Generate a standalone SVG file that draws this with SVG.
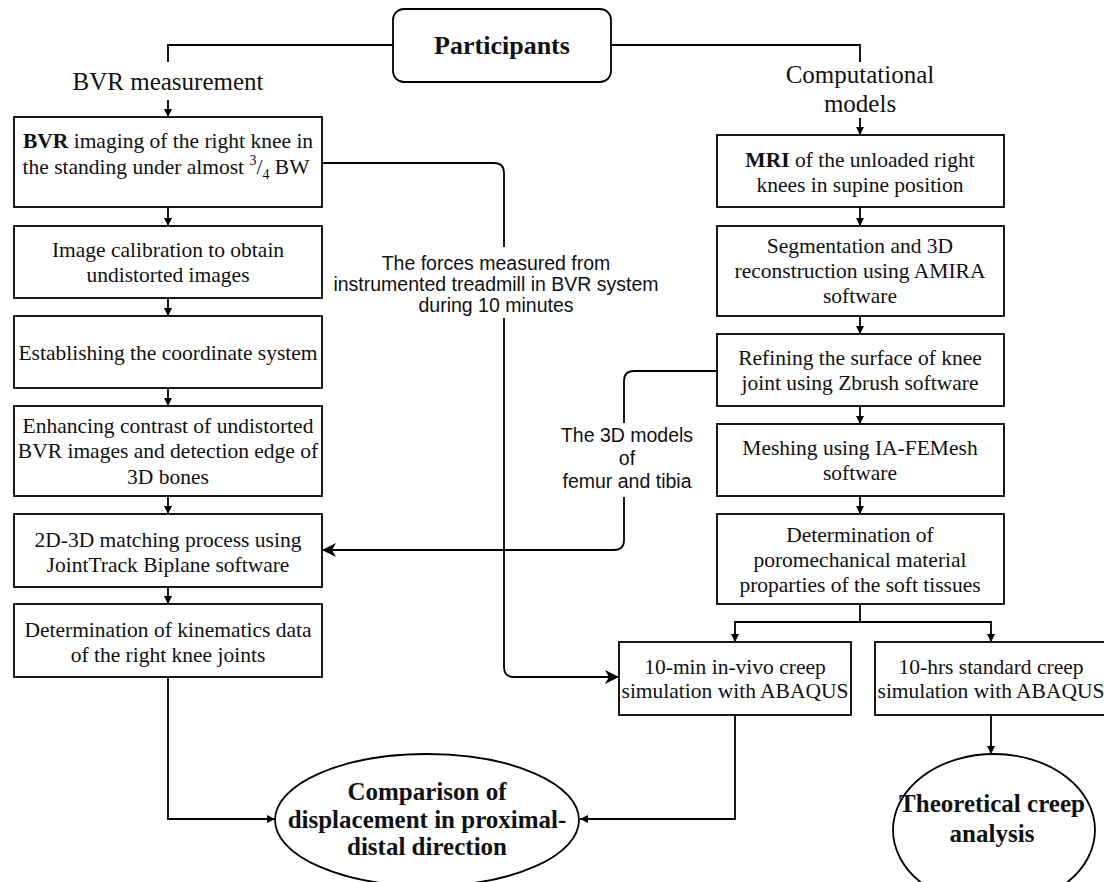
<svg xmlns="http://www.w3.org/2000/svg" width="1104" height="882" viewBox="0 0 1104 882">
<style>
.box{fill:#fff;stroke:#000;stroke-width:1.8}
.ln{fill:none;stroke:#000;stroke-width:1.8}
.t{font-family:"Liberation Serif","Times New Roman",serif;font-size:21.5px;fill:#111;text-anchor:middle}
.lab{font-family:"Liberation Serif","Times New Roman",serif;font-size:25px;fill:#111;text-anchor:middle}
.b{font-family:"Liberation Serif","Times New Roman",serif;font-size:25px;font-weight:bold;fill:#111;text-anchor:middle}
.s{font-family:"Liberation Sans",Arial,sans-serif;font-size:19.5px;fill:#111;text-anchor:middle}
</style>
<defs>
<marker id="a" viewBox="0 0 8 8" refX="8" refY="4" markerWidth="8" markerHeight="8" markerUnits="userSpaceOnUse" orient="auto"><path d="M0,0 L8,4 L0,8 z" fill="#000"/></marker>
<marker id="big" viewBox="0 0 14 14" refX="14" refY="7" markerWidth="14" markerHeight="14" markerUnits="userSpaceOnUse" orient="auto"><path d="M0,0 L14,7 L0,14 L4,7 z" fill="#000"/></marker>
</defs>
<g id="connectors">
<path class="ln" d="M393,45 H168 V62"/>
<path class="ln" d="M611,45 H860 V62"/>
<path class="ln" d="M168,100 V117" marker-end="url(#a)"/>
<path class="ln" d="M860,118 V135" marker-end="url(#a)"/>
<path class="ln" d="M168,207 V226" marker-end="url(#a)"/>
<path class="ln" d="M168,298 V316" marker-end="url(#a)"/>
<path class="ln" d="M168,388 V406" marker-end="url(#a)"/>
<path class="ln" d="M168,496 V514" marker-end="url(#a)"/>
<path class="ln" d="M168,587 V604" marker-end="url(#a)"/>
<path class="ln" d="M860,207 V226" marker-end="url(#a)"/>
<path class="ln" d="M860,316 V334" marker-end="url(#a)"/>
<path class="ln" d="M860,406 V424" marker-end="url(#a)"/>
<path class="ln" d="M860,496 V514" marker-end="url(#a)"/>
<path class="ln" d="M860,604 V622"/>
<path class="ln" d="M860,622 H735 V642" marker-end="url(#a)"/>
<path class="ln" d="M860,622 H991 V642" marker-end="url(#a)"/>
<path class="ln" d="M991,715 V754" marker-end="url(#a)"/>
<path class="ln" d="M168,677 V819 H275" marker-end="url(#a)"/>
<path class="ln" d="M735,715 V819 H580" marker-end="url(#a)"/>
<path class="ln" d="M322,163 H494 Q504,163 504,173 V247"/>
<path class="ln" d="M504,318 V667 Q504,677 514,677 H619" marker-end="url(#big)"/>
<path class="ln" d="M717,371 H634 Q624,371 624,381 V423"/>
<path class="ln" d="M624,497 V540 Q624,550 614,550 H322" marker-end="url(#big)"/>
<text class="s"><tspan x="496" y="270">The forces measured from</tspan><tspan x="496" y="291">instrumented treadmill in BVR system</tspan><tspan x="496" y="312">during 10 minutes</tspan></text>
<text class="s"><tspan x="627" y="442">The 3D models</tspan><tspan x="627" y="465">of</tspan><tspan x="627" y="488">femur and tibia</tspan></text>
</g>
<g id="participants">
<rect class="box" x="393" y="9" width="218" height="73" rx="11"/>
<text class="b" x="502" y="54" style="font-size:26px">Participants</text>
</g>
<g id="label-bvr"><text class="lab" x="168" y="90">BVR measurement</text></g>
<g id="label-comp"><text class="lab"><tspan x="860" y="83">Computational</tspan><tspan x="860" y="112">models</tspan></text></g>
<g id="n1">
<rect class="box" x="14" y="117" width="308" height="90"/>
<text class="t"><tspan x="168" y="148"><tspan font-weight="bold">BVR</tspan> imaging of the right knee in</tspan><tspan x="166" y="174">the standing under almost <tspan font-size="14" dy="-9">3</tspan><tspan dy="9">/</tspan><tspan font-size="14" dy="5">4</tspan><tspan dy="-5"> BW</tspan></tspan></text>
</g>
<g id="n2">
<rect class="box" x="14" y="226" width="308" height="72"/>
<text class="t"><tspan x="168" y="257">Image calibration to obtain</tspan><tspan x="168" y="282">undistorted images</tspan></text>
</g>
<g id="n3">
<rect class="box" x="14" y="316" width="308" height="72"/>
<text class="t" x="168" y="360">Establishing the coordinate system</text>
</g>
<g id="n4">
<rect class="box" x="14" y="406" width="308" height="90"/>
<text class="t"><tspan x="168" y="433">Enhancing contrast of undistorted</tspan><tspan x="168" y="458">BVR images and detection edge of</tspan><tspan x="168" y="484">3D bones</tspan></text>
</g>
<g id="n5">
<rect class="box" x="14" y="514" width="308" height="73"/>
<text class="t"><tspan x="168" y="547">2D-3D matching process using</tspan><tspan x="168" y="572">JointTrack Biplane software</tspan></text>
</g>
<g id="n6">
<rect class="box" x="14" y="604" width="308" height="73"/>
<text class="t"><tspan x="168" y="637">Determination of kinematics data</tspan><tspan x="168" y="662">of the right knee joints</tspan></text>
</g>
<g id="m1">
<rect class="box" x="717" y="135" width="287" height="72"/>
<text class="t"><tspan x="860" y="167"><tspan font-weight="bold">MRI</tspan> of the unloaded right</tspan><tspan x="860" y="192">knees in supine position</tspan></text>
</g>
<g id="m2">
<rect class="box" x="717" y="226" width="287" height="90"/>
<text class="t"><tspan x="860" y="253">Segmentation and 3D</tspan><tspan x="860" y="278">reconstruction using AMIRA</tspan><tspan x="860" y="303">software</tspan></text>
</g>
<g id="m3">
<rect class="box" x="717" y="334" width="287" height="72"/>
<text class="t"><tspan x="860" y="365">Refining the surface of knee</tspan><tspan x="860" y="390">joint using Zbrush software</tspan></text>
</g>
<g id="m4">
<rect class="box" x="717" y="424" width="287" height="72"/>
<text class="t"><tspan x="860" y="455">Meshing using IA-FEMesh</tspan><tspan x="860" y="480">software</tspan></text>
</g>
<g id="m5">
<rect class="box" x="717" y="514" width="287" height="90"/>
<text class="t"><tspan x="860" y="542">Determination of</tspan><tspan x="860" y="567">poromechanical material</tspan><tspan x="860" y="592">proparties of the soft tissues</tspan></text>
</g>
<g id="sim1">
<rect class="box" x="619" y="642" width="232" height="73"/>
<text class="t"><tspan x="735" y="674">10-min in-vivo creep</tspan><tspan x="735" y="698">simulation with ABAQUS</tspan></text>
</g>
<g id="sim2">
<rect class="box" x="875" y="642" width="232" height="73"/>
<text class="t"><tspan x="991" y="674">10-hrs standard creep</tspan><tspan x="991" y="698">simulation with ABAQUS</tspan></text>
</g>
<g id="comparison">
<ellipse class="box" cx="427" cy="820" rx="152" ry="66"/>
<text class="b"><tspan x="427" y="800">Comparison of</tspan><tspan x="427" y="828">displacement in proximal-</tspan><tspan x="427" y="855">distal direction</tspan></text>
</g>
<g id="theoretical">
<ellipse class="box" cx="994" cy="830" rx="101" ry="76"/>
<text class="b"><tspan x="992" y="812">Theoretical creep</tspan><tspan x="992" y="842">analysis</tspan></text>
</g>
</svg>
